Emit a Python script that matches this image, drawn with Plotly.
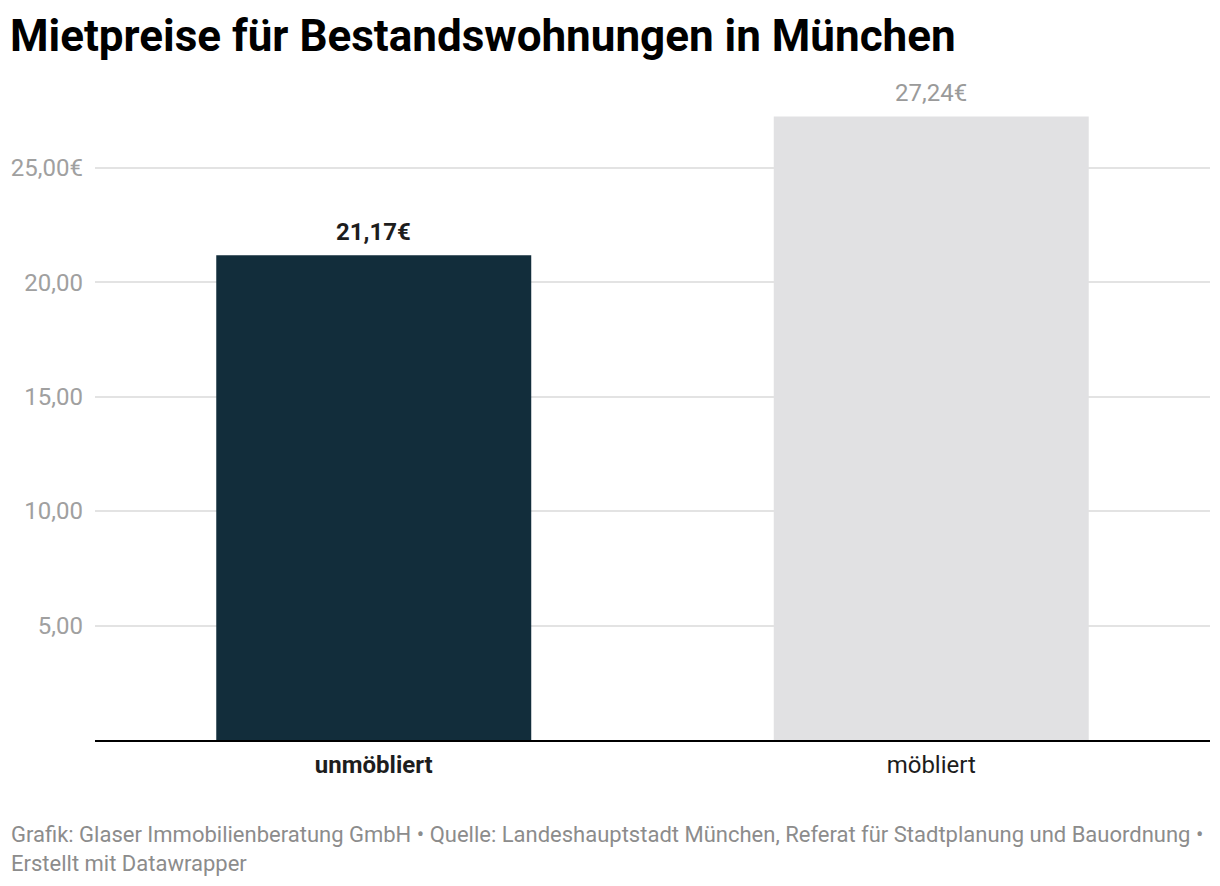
import plotly.graph_objects as go

categories = ["unmöbliert", "möbliert"]
values = [21.17, 27.24]
bar_colors = ["#122d3b", "#e1e1e3"]
value_label_colors = ["#1d1d1d", "#9a9a9a"]
value_label_bold = [True, False]
category_bold = [True, False]
y_ticks = [5, 10, 15, 20, 25]
y_tick_labels = ["5,00", "10,00", "15,00", "20,00", "25,00€"]

title = "Mietpreise für Bestandswohnungen in München"
footer = ("Grafik: Glaser Immobilienberatung GmbH • Quelle: Landeshauptstadt München, "
          "Referat für Stadtplanung und Bauordnung •<br>Erstellt mit Datawrapper")

# page places the figure at an 8px body offset
OFF = 8
W, H = 1220 - OFF, 886 - OFF
ML, MR, MT, MB = 95 - OFF, 10, 99 - OFF, 146
PW = W - ML - MR
PH = H - MT - MB


def px_x(px):
    return (px - OFF - ML) / PW


def px_y(py):
    return (H - MB - (py - OFF)) / PH


FONT = "Roboto"

fig = go.Figure()
fig.add_trace(go.Bar(
    x=categories, y=values,
    marker=dict(color=bar_colors, line=dict(width=0)),
    width=0.565,
    hoverinfo="skip",
))

annotations = []
for c, v, col, b in zip(categories, values, value_label_colors, value_label_bold):
    t = f"{v:.2f}".replace(".", ",") + "€"
    if b:
        t = f"<b>{t}</b>"
    annotations.append(dict(x=c, y=v, xref="x", yref="y", text=t, showarrow=False,
                            yanchor="middle", yshift=23,
                            font=dict(family=FONT, size=24, color=col)))

annotations.append(dict(x=px_x(8), y=px_y(36), xref="paper", yref="paper", text=f"<b>{title}</b>",
                        showarrow=False, xanchor="left", yanchor="middle",
                        font=dict(family=FONT, size=44, color="#000000")))
annotations.append(dict(x=px_x(9), y=px_y(849), xref="paper", yref="paper", text=footer,
                        showarrow=False, xanchor="left", yanchor="middle", align="left",
                        font=dict(family=FONT, size=22, color="#8c8c8c")))

tick_text = [f"<b>{c}</b>" if b else c for c, b in zip(categories, category_bold)]

fig.update_layout(
    width=W, height=H,
    margin=dict(l=ML, r=MR, t=MT, b=MB, pad=0, autoexpand=False),
    paper_bgcolor="white", plot_bgcolor="white",
    showlegend=False,
    bargap=0.435,
    annotations=annotations,
    xaxis=dict(
        tickmode="array", tickvals=categories, ticktext=tick_text,
        range=[-0.5, 1.5],
        showgrid=False, zeroline=False,
        showline=True, linecolor="#000000", linewidth=2,
        ticks="", ticklabelstandoff=2, automargin=False,
        tickfont=dict(family=FONT, size=24, color="#1d1d1d"),
        fixedrange=True,
    ),
    yaxis=dict(
        range=[0, 28], zeroline=False,
        tickmode="array", tickvals=y_ticks, ticktext=y_tick_labels,
        showgrid=True, gridcolor="#e3e3e3", gridwidth=1.5,
        showline=False, ticks="", ticklabelstandoff=11, automargin=False,
        tickfont=dict(family=FONT, size=24, color="#a0a0a0"),
        fixedrange=True,
    ),
)

fig.write_html("out.html", config={"displayModeBar": False})
